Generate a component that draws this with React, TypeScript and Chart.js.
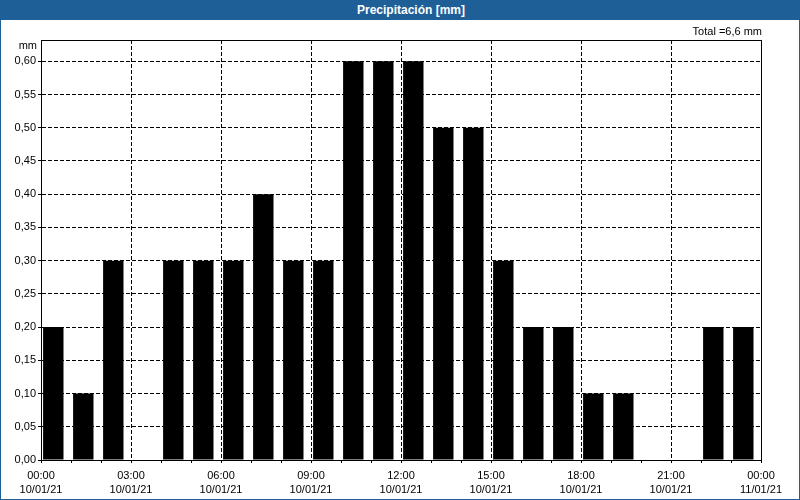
import React, { useEffect, useRef } from "react";
import { Chart, registerables } from "chart.js";

Chart.register(...registerables);

// Hour of day at which each hourly bar starts (10/01/21)
const hours = [0, 1, 2, 3, 4, 5, 6, 7, 8, 9, 10, 11, 12, 13, 14, 15, 16, 17, 18, 19, 20, 21, 22, 23];
// Precipitation per hour [mm]
const precipitation = [0.2, 0.1, 0.3, 0, 0.3, 0.3, 0.3, 0.4, 0.3, 0.3, 0.6, 0.6, 0.6, 0.5, 0.5, 0.3, 0.2, 0.2, 0.1, 0.1, 0, 0, 0.2, 0.2];
// X-axis labelled ticks
const tickHours = [0, 3, 6, 9, 12, 15, 18, 21, 24];
const tickTimes = ["00:00", "03:00", "06:00", "09:00", "12:00", "15:00", "18:00", "21:00", "00:00"];
const tickDates = ["10/01/21", "10/01/21", "10/01/21", "10/01/21", "10/01/21", "10/01/21", "10/01/21", "10/01/21", "11/01/21"];

const TITLE = "Precipitación [mm]";
const UNIT = "mm";
const BLUE = "#1e5f98";
const FONT = "'Liberation Sans', Arial, sans-serif";

const fmt = (v: number, d: number) => v.toFixed(d).replace(".", ",");

export default function App() {
  const ref = useRef<HTMLCanvasElement | null>(null);

  useEffect(() => {
    document.body.style.margin = "0";
    const canvas = ref.current;
    if (!canvas) return;
    const total = precipitation.reduce((a, b) => a + b, 0);

    const extras = {
      id: "extras",
      afterDraw(chart: any) {
        const { ctx, chartArea } = chart;
        ctx.save();
        ctx.strokeStyle = "#000";
        ctx.lineWidth = 1;
        ctx.setLineDash([]);
        ctx.strokeRect(
          Math.round(chartArea.left) + 0.5,
          Math.round(chartArea.top) + 0.5,
          Math.round(chartArea.right - chartArea.left),
          Math.round(chartArea.bottom - chartArea.top)
        );
        ctx.fillStyle = "#000";
        ctx.font = `11px ${FONT}`;
        ctx.textBaseline = "middle";
        ctx.textAlign = "right";
        ctx.fillText(UNIT, chartArea.left - 4, chartArea.top + 6);
        ctx.fillText(`Total =${fmt(total, 1)} mm`, chartArea.right + 1, chartArea.top - 8);
        ctx.restore();
      },
    };

    const chart = new Chart(canvas, {
      type: "bar",
      data: {
        datasets: [
          {
            data: hours.map((h, i) => ({ x: h + 0.41, y: precipitation[i] })),
            backgroundColor: "#000",
            borderWidth: 0,
            borderRadius: 0,
            barPercentage: 0.68,
            categoryPercentage: 1,
          },
        ],
      },
      options: {
        animation: false,
        responsive: false,
        devicePixelRatio: 1,
        layout: { padding: { left: 0, right: 38, top: 20, bottom: 0 } },
        plugins: {
          legend: { display: false },
          tooltip: { enabled: false },
          title: { display: false },
        },
        scales: {
          x: {
            type: "linear",
            min: 0,
            max: 24,
            offset: false,
            afterFit: (s: any) => {
              s.height = 39;
            },
            ticks: {
              stepSize: 1,
              autoSkip: false,
              maxRotation: 0,
              minRotation: 0,
              padding: 6,
              color: "#000",
              font: { family: FONT, size: 11, lineHeight: 1.3 },
              callback: (v: any) => {
                const i = tickHours.indexOf(Number(v));
                return i >= 0 ? [tickTimes[i], tickDates[i]] : "";
              },
            },
            grid: {
              offset: false,
              color: (c: any) => {
                const v = c.tick ? c.tick.value : -1;
                return v > 0 && v < 24 && tickHours.includes(v) ? "#000" : "rgba(0,0,0,0)";
              },
              tickColor: "#000",
              tickLength: 3,
              tickBorderDash: [],
              lineWidth: 1,
            },
            border: { display: true, color: "#000", width: 1, dash: [4, 2] },
          },
          y: {
            min: 0,
            max: 0.632,
            afterFit: (s: any) => {
              s.width = 40;
            },
            ticks: {
              stepSize: 0.05,
              includeBounds: false,
              padding: 2,
              color: "#000",
              font: { family: FONT, size: 11 },
              callback: (v: any) => fmt(Number(v), 2),
            },
            grid: {
              color: (c: any) => (c.tick && c.tick.value > 0.001 ? "#000" : "rgba(0,0,0,0)"),
              tickColor: "#000",
              tickLength: 3,
              tickBorderDash: [],
              lineWidth: 1,
            },
            border: { display: true, color: "#000", width: 1, dash: [4, 2] },
          },
        },
      },
      plugins: [extras],
    } as any);

    return () => chart.destroy();
  }, []);

  return (
    <div
      style={{
        position: "absolute",
        left: 0,
        top: 0,
        width: 800,
        height: 500,
        background: BLUE,
        overflow: "hidden",
      }}
    >
      <div
        style={{
          position: "absolute",
          left: 0,
          top: 0,
          width: 800,
          height: 20,
          lineHeight: "21px",
          color: "#fff",
          fontFamily: FONT,
          fontWeight: "bold",
          fontSize: 12,
          textAlign: "center",
          paddingLeft: 22,
          boxSizing: "border-box",
        }}
      >
        {TITLE}
      </div>
      <div
        style={{
          position: "absolute",
          left: 1,
          top: 20,
          width: 798,
          height: 479,
          background: "#fff",
        }}
      >
        <canvas ref={ref} width={798} height={479} style={{ display: "block" }} />
      </div>
    </div>
  );
}
